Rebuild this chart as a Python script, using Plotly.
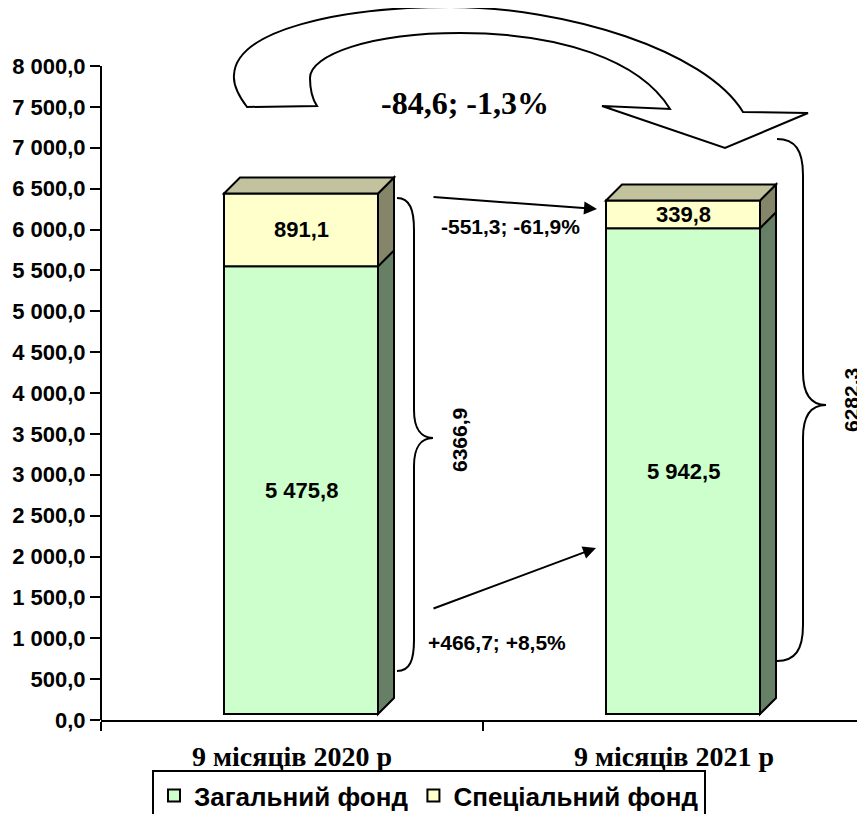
import plotly.graph_objects as go

# ---------------- data ----------------
categories = ["9 місяців 2020 р", "9 місяців 2021 р"]
general_fund = [5475.8, 5942.5]
special_fund = [891.1, 339.8]
series_names = ["Загальний фонд", "Спеціальний фонд"]
y_tick_values = [0, 500, 1000, 1500, 2000, 2500, 3000, 3500, 4000,
                 4500, 5000, 5500, 6000, 6500, 7000, 7500, 8000]

# ---------------- style / geometry ----------------
VIEW_W, VIEW_H = 865, 814
BODY = 8                         # default page margin of the html body
W, H = VIEW_W - BODY, VIEW_H - BODY
PLOT_L, PLOT_R, PLOT_T, PLOT_B = 101, 865, 8, 720   # plot area in screen px
ML, MR, MT, MB = PLOT_L - BODY, 0, 0, VIEW_H - PLOT_B
PLOT_W = PLOT_R - PLOT_L
PLOT_H = PLOT_B - PLOT_T
Y_TOP_TICK = 8000
PX_PER_UNIT = 654 / 8000.0          # 8000 units span 654 px
Y_MAX = PLOT_H / PX_PER_UNIT
CAT_PX = PLOT_W / 2.0

FLOOR = 6 / PX_PER_UNIT             # 3D floor lift of the front face
BAR_W = 154 / CAT_PX
BAR_OFF = -68 / CAT_PX
DX = 16 / CAT_PX
DY = 16 / PX_PER_UNIT

GREEN, GREEN_SIDE = "#CCFFCC", "#668066"
YELLOW, YELLOW_SIDE, TOP = "#FFFFCC", "#858569", "#C2C29E"
SANS = "Liberation Sans, Arial, sans-serif"
SERIF = "Liberation Serif, Times New Roman, serif"


def fmt(v, sep=" "):
    s = f"{v:,.1f}".replace(",", "\u00a0" if sep else "").replace(".", ",")
    return s.replace("\u00a0", sep)


def P(px, py):
    """screen pixel -> paper"""
    return (px - PLOT_L) / PLOT_W, (PLOT_B - py) / PLOT_H


def path_px(cmds):
    out = []
    for c in cmds:
        if isinstance(c, str):
            out.append(c)
        else:
            x, y = P(*c)
            out.append(f"{x:.5f},{y:.5f}")
    return " ".join(out)


fig = go.Figure()
fig.add_trace(go.Bar(
    x=categories, y=general_fund, base=[FLOOR] * 2, name=series_names[0],
    width=BAR_W, offset=BAR_OFF, marker=dict(color=GREEN, line=dict(color="black", width=2))))
fig.add_trace(go.Bar(
    x=categories, y=special_fund, base=[FLOOR + g for g in general_fund], name=series_names[1],
    width=BAR_W, offset=BAR_OFF, marker=dict(color=YELLOW, line=dict(color="black", width=2))))

shapes = []
annotations = []
f_lab = dict(family=SANS, size=22, color="black", weight="bold")
for i in range(len(categories)):
    xl = i + BAR_OFF
    xr = xl + BAR_W
    b = FLOOR
    g = FLOOR + general_fund[i]
    t = g + special_fund[i]

    def poly(pts, fill):
        d = "M " + " L ".join(f"{x},{y}" for x, y in pts) + " Z"
        shapes.append(dict(type="path", xref="x", yref="y", path=d, fillcolor=fill,
                           line=dict(color="black", width=2), layer="above"))

    poly([(xr, b), (xr + DX, b + DY), (xr + DX, g + DY), (xr, g)], GREEN_SIDE)
    poly([(xr, g), (xr + DX, g + DY), (xr + DX, t + DY), (xr, t)], YELLOW_SIDE)
    poly([(xl, t), (xl + DX, t + DY), (xr + DX, t + DY), (xr, t)], TOP)

    xc = xl + BAR_W / 2
    annotations.append(dict(x=xc, y=(b + g) / 2, xref="x", yref="y", showarrow=False,
                            text=fmt(general_fund[i]), font=f_lab))
    annotations.append(dict(x=xc, y=(g + t) / 2, xref="x", yref="y", showarrow=False,
                            text=fmt(special_fund[i]), font=f_lab))

# y axis line (0 .. 8000 only)
shapes.append(dict(type="line", xref="paper", yref="y", x0=0, x1=0, y0=0, y1=Y_TOP_TICK,
                   line=dict(color="black", width=2)))

# big curved arrow
big_arrow = path_px([
    "M", (247, 107), "C", (238, 95), (233, 85), (234, 75),
    "C", (236, 30), (340, 7), (450, 7),
    "C", (565, 7), (705, 50), (743, 112),
    "L", (808, 113), "L", (725, 148), "L", (602, 106), "L", (670, 109),
    "C", (640, 60), (560, 33), (460, 33),
    "C", (370, 33), (310, 55), (310, 78),
    "C", (310, 92), (313, 100), (317, 106), "Z"])
shapes.append(dict(type="path", xref="paper", yref="paper", path=big_arrow,
                   fillcolor="white", line=dict(color="black", width=2), layer="above"))

# braces
brace_left = path_px([
    "M", (397, 198), "C", (410, 198), (414, 210), (414, 230),
    "L", (414, 410), "C", (414, 430), (422, 438), (433, 438),
    "C", (422, 438), (414, 446), (414, 466),
    "L", (414, 640), "C", (414, 660), (410, 671), (397, 671)])
brace_right = path_px([
    "M", (777, 139), "C", (795, 139), (803, 150), (803, 175),
    "L", (803, 372), "C", (803, 396), (812, 405), (826, 405),
    "C", (812, 405), (803, 414), (803, 438),
    "L", (803, 625), "C", (803, 650), (795, 661), (777, 661)])
for d in (brace_left, brace_right):
    shapes.append(dict(type="path", xref="paper", yref="paper", path=d,
                       line=dict(color="black", width=2), layer="above"))

# change annotations
tot = [g + s for g, s in zip(general_fund, special_fund)]
d_spec = special_fund[1] - special_fund[0]
d_gen = general_fund[1] - general_fund[0]
d_tot = tot[1] - tot[0]


def sgn(v):
    return ("+" if v > 0 else "") + fmt(v, "")


lbl_spec = f"{sgn(d_spec)}; {sgn(d_spec / special_fund[0] * 100)}%"
lbl_gen = f"{sgn(d_gen)}; {sgn(d_gen / general_fund[0] * 100)}%"
lbl_tot = f"{sgn(d_tot)}; {sgn(d_tot / tot[0] * 100)}%"

for (x0, y0), (x1, y1) in [((432, 197), (597, 209)), ((432, 609), (596, 548))]:
    tx, ty = P(x1, y1)
    annotations.append(dict(x=tx, y=ty, xref="paper", yref="paper", text="",
                            showarrow=True, ax=x0 - x1, ay=y0 - y1,
                            arrowhead=2, arrowsize=1.3, arrowwidth=2, arrowcolor="black"))


def txt(px, py, s, font, angle=0):
    x, y = P(px, py)
    annotations.append(dict(x=x, y=y, xref="paper", yref="paper", text=s, showarrow=False,
                            textangle=angle, font=font, xanchor="center", yanchor="middle"))


f21 = dict(family=SANS, size=21, color="black", weight="bold")
txt(510, 227, lbl_spec, f21)
txt(497, 642, lbl_gen, f21)
txt(465, 103, lbl_tot, dict(family=SERIF, size=32, color="black", weight="bold"))
txt(460, 440, fmt(tot[0], ""), f21, -90)
txt(851, 400, fmt(tot[1], ""), f21, -90)

lx, ly = P(152, 770)
fig.update_layout(
    width=W, height=H,
    margin=dict(l=ML, r=MR, t=MT, b=MB, pad=0, autoexpand=False),
    template="none",
    paper_bgcolor="white", plot_bgcolor="white",
    barmode="overlay",
    shapes=shapes, annotations=annotations,
    showlegend=True,
    legend=dict(orientation="h", x=lx, xanchor="left", y=ly, yanchor="top",
                bordercolor="black", borderwidth=2, bgcolor="white",
                font=dict(family=SANS, size=26, color="black", weight="bold"),
                itemwidth=30, tracegroupgap=0),
    xaxis=dict(type="category", range=[-0.5, 1.5], showline=True, linecolor="black",
               linewidth=2, ticks="outside", tickson="boundaries", ticklen=9,
               tickwidth=2, tickcolor="black", showgrid=False, zeroline=False,
               automargin=False,
               tickfont=dict(family=SERIF, size=28, color="black", weight="bold"),
               ticklabelstandoff=10),
    yaxis=dict(range=[0, Y_MAX], tickvals=y_tick_values, automargin=False,
               ticktext=[fmt(v) for v in y_tick_values], showline=False,
               ticks="outside", ticklen=10, tickwidth=2, tickcolor="black",
               showgrid=False, zeroline=False,
               tickfont=dict(family=SANS, size=22, color="black", weight="bold")),
)

fig.write_html("out.html")
